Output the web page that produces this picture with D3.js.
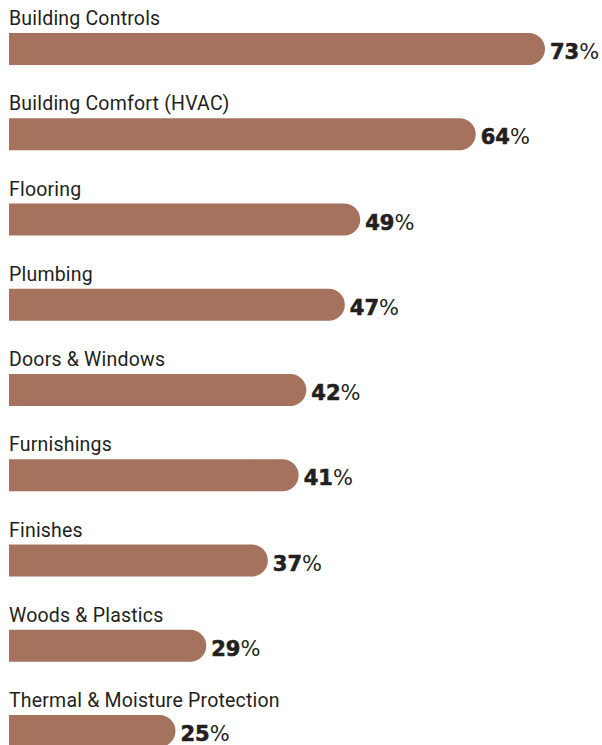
<!DOCTYPE html>
<html>
<head>
<meta charset="utf-8">
<script src="https://cdn.jsdelivr.net/npm/d3@7"></script>
<style>
  html, body { margin: 0; padding: 0; background: #fff; }
  svg { display: block; }
</style>
</head>
<body>
<svg id="chart" width="602" height="745"></svg>
<script>
const categories = [
  "Building Controls",
  "Building Comfort (HVAC)",
  "Flooring",
  "Plumbing",
  "Doors & Windows",
  "Furnishings",
  "Finishes",
  "Woods & Plastics",
  "Thermal & Moisture Protection"
];
const values = [73, 64, 49, 47, 42, 41, 37, 29, 25];

const W = 602, H = 745;
const barColor = "#a5725e";
const textColor = "#231f20";
const barH = 32;
const left = 9;

const svg = d3.select("#chart");

const y = d3.scaleBand()
  .domain(categories)
  .range([33, 33 + 85.25 * categories.length])
  .paddingInner(0)
  .paddingOuter(0);

const x = d3.scaleLinear()
  .domain([0, 73])
  .range([-17, 545]);

// bar path: square left edge, fully rounded right end
function barPath(x0, x1, top, h) {
  const r = h / 2;
  const xe = Math.max(x0, x1 - r);
  return `M${x0},${top}H${xe}A${r},${r} 0 0 1 ${xe},${top + h}H${x0}Z`;
}

const g = svg.selectAll("g.row")
  .data(categories.map((c, i) => ({ c, v: values[i] })))
  .join("g")
  .attr("class", "row");

g.append("path")
  .attr("d", d => barPath(left, x(d.v), y(d.c), barH))
  .attr("fill", barColor);

g.append("text")
  .attr("x", left)
  .attr("y", d => y(d.c) - 8)
  .attr("fill", textColor)
  .style("font-family", "Roboto, sans-serif")
  .style("font-size", "19.5px")
  .style("letter-spacing", "0.2px")
  .text(d => d.c);

const lab = g.append("text")
  .attr("x", d => x(d.v) + 5)
  .attr("y", d => y(d.c) + 26)
  .attr("fill", textColor)
  .style("font-family", "'DejaVu Sans', sans-serif")
  .style("font-size", "21px");

lab.append("tspan")
  .style("font-weight", 700)
  .attr("stroke", textColor)
  .attr("stroke-width", 0.6)
  .text(d => d.v);
lab.append("tspan")
  .style("font-weight", 400)
  .text("%");
</script>
</body>
</html>
